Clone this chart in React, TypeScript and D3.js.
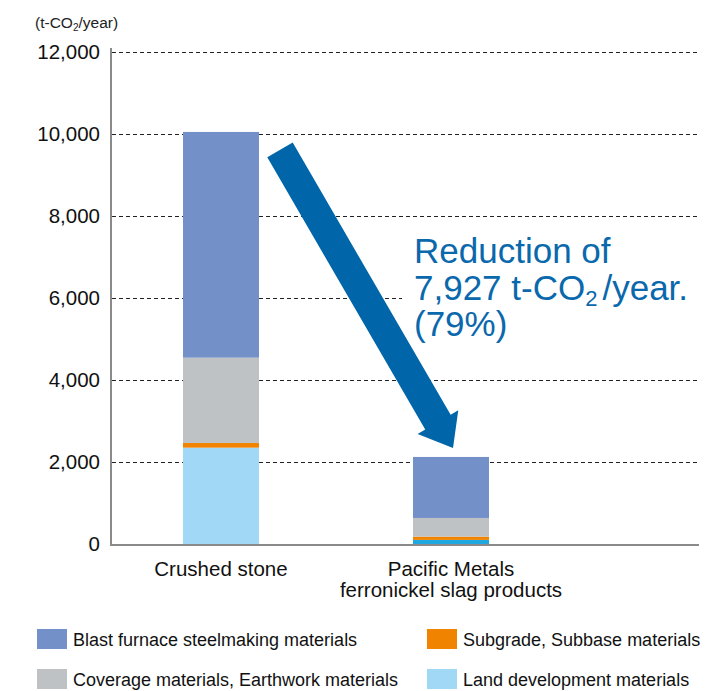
import React from "react";
import * as d3 from "d3";

const categories = ["Crushed stone", "Pacific Metals\nferronickel slag products"];
const seriesNames = [
  "Land development materials",
  "Subgrade, Subbase materials",
  "Coverage materials, Earthwork materials",
  "Blast furnace steelmaking materials",
];
const landValues = [2350, 100];
const subgradeValues = [115, 80];
const coverageValues = [2080, 455];
const blastValues = [5505, 1488];
const yTicks = [0, 2000, 4000, 6000, 8000, 10000, 12000];
const legendOrder = [
  "Blast furnace steelmaking materials",
  "Subgrade, Subbase materials",
  "Coverage materials, Earthwork materials",
  "Land development materials",
];

const colors: Record<string, string> = {
  "Land development materials": "#a0d8f5",
  "Subgrade, Subbase materials": "#f08300",
  "Coverage materials, Earthwork materials": "#bec2c4",
  "Blast furnace steelmaking materials": "#7390c9",
};
// bar-specific shade for the thin land segment of the second bar
const landOverride = [null, "#1fa7df"];

const W = 722;
const H = 691;
const FONT = "'Liberation Sans', Arial, Helvetica, sans-serif";

export default function App() {
  const x = d3
    .scaleBand<string>()
    .domain(categories)
    .range([111, 561])
    .paddingInner(0.6696)
    .paddingOuter(0.313);
  const y = d3.scaleLinear().domain([0, 12000]).range([544, 52]);

  const rows = categories.map((c, i) => ({
    cat: c,
    "Land development materials": landValues[i],
    "Subgrade, Subbase materials": subgradeValues[i],
    "Coverage materials, Earthwork materials": coverageValues[i],
    "Blast furnace steelmaking materials": blastValues[i],
  }));
  const stack = d3.stack<any>().keys(seriesNames)(rows);

  const totals = rows.map((r, i) => landValues[i] + subgradeValues[i] + coverageValues[i] + blastValues[i]);
  const reduction = totals[0] - totals[1];

  // arrow geometry (annotation)
  const sx = (x(categories[0]) as number) + x.bandwidth() + 21;
  const sy = y(9610);
  const tx = (x(categories[1]) as number) + 40;
  const ty = y(2340);
  const dx = tx - sx;
  const dy = ty - sy;
  const len = Math.sqrt(dx * dx + dy * dy);
  const ux = dx / len;
  const uy = dy / len;
  const px = uy;
  const py = -ux;
  const sw = 14.7;
  const hw = 23.5;
  const hl = 30;
  const bx = tx - ux * hl;
  const by = ty - uy * hl;
  const arrowPts = [
    [sx + px * sw, sy + py * sw],
    [bx + px * sw, by + py * sw],
    [bx + px * hw, by + py * hw],
    [tx, ty],
    [bx - px * hw, by - py * hw],
    [bx - px * sw, by - py * sw],
    [sx - px * sw, sy - py * sw],
  ];

  return (
    <svg width={W} height={H} style={{ position: "absolute", left: 0, top: 0, background: "#fff" }} fontFamily={FONT}>
      <rect x={0} y={0} width={W} height={H} fill="#fff" />
      {/* unit label */}
      <text x={35} y={28} fontSize={15.5} fill="#222">
        (t-CO<tspan fontSize={10} dy={3}>2</tspan>
        <tspan dy={-3}>/year)</tspan>
      </text>

      {/* gridlines */}
      {yTicks
        .filter((t) => t > 0)
        .map((t) => (
          <line
            key={t}
            x1={112}
            x2={t === 6000 ? 402 : 699}
            y1={y(t) + 0.5}
            y2={y(t) + 0.5}
            stroke="#222"
            strokeWidth={1}
            strokeDasharray="4,3"
          />
        ))}

      {/* tick labels */}
      {yTicks.map((t) => (
        <text key={t} x={100} y={y(t)} dy="0.36em" textAnchor="end" fontSize={20.5} fill="#111">
          {d3.format(",")(t)}
        </text>
      ))}

      {/* bars */}
      {stack.map((s) =>
        s.map((d, i) => {
          let fill = colors[s.key];
          if (s.key === "Land development materials" && landOverride[i]) fill = landOverride[i] as string;
          return (
            <rect
              key={s.key + i}
              x={x(categories[i])}
              width={x.bandwidth()}
              y={y(d[1])}
              height={y(d[0]) - y(d[1])}
              fill={fill}
            />
          );
        })
      )}

      {/* axes */}
      <line x1={111} x2={111} y1={48} y2={545} stroke="#8a8a8a" strokeWidth={2} />
      <line x1={110} x2={699} y1={545} y2={545} stroke="#8a8a8a" strokeWidth={2} />

      {/* category labels */}
      {categories.map((c) => {
        const lines = c.split("\n");
        const cx = (x(c) as number) + x.bandwidth() / 2;
        return (
          <text key={c} x={cx} y={576} textAnchor="middle" fontSize={20.5} fill="#111">
            {lines.map((l, j) => (
              <tspan key={j} x={cx} dy={j === 0 ? 0 : 21}>
                {l}
              </tspan>
            ))}
          </text>
        );
      })}

      {/* arrow */}
      <polygon points={arrowPts.map((p) => p.join(",")).join(" ")} fill="#0066a9" />

      {/* annotation */}
      <g fill="#0a68ac" fontSize={35}>
        <text x={414} y={263}>Reduction of</text>
        <text x={414} y={300}>
          {d3.format(",")(reduction)} t-CO<tspan fontSize={22} dy={6}>2</tspan>
          <tspan dy={-6} dx={5}>/year.</tspan>
        </text>
        <text x={414} y={336}>({Math.round((reduction / totals[0]) * 100)}%)</text>
      </g>

      {/* legend */}
      {legendOrder.map((name, i) => {
        const col = i % 2;
        const row = Math.floor(i / 2);
        const lx = col === 0 ? 37 : 427;
        const ly = 629 + row * 40;
        return (
          <g key={name}>
            <rect x={lx} y={ly} width={30} height={20} fill={colors[name]} />
            <text x={lx + 36} y={ly + 17} fontSize={18} fill="#111">
              {name}
            </text>
          </g>
        );
      })}
    </svg>
  );
}
